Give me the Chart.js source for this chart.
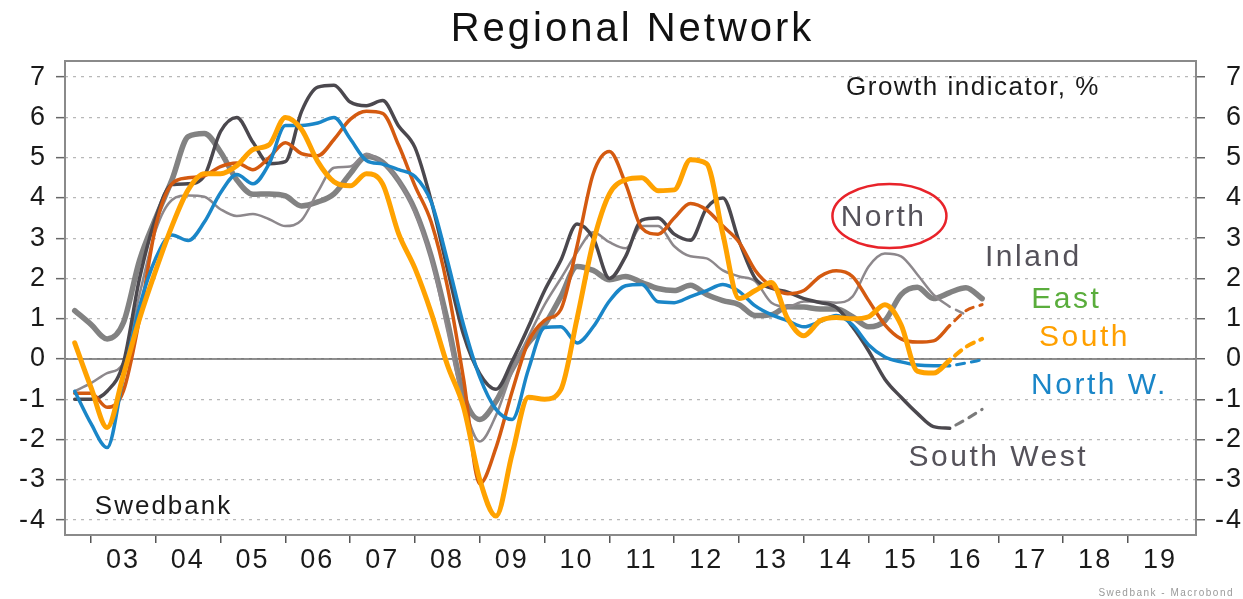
<!DOCTYPE html>
<html>
<head>
<meta charset="utf-8">
<title>Regional Network</title>
<script src="https://cdn.jsdelivr.net/npm/chart.js@4.4.1/dist/chart.umd.min.js"></script>
<style>
  html, body { margin: 0; padding: 0; background: #fff; }
  canvas { display: block; }
</style>
</head>
<body>
<canvas id="regionChart" width="1243" height="599"></canvas>
<script>
// quarterly time axis (decimal years)
const quarters = [
  2002.75, 2003, 2003.25, 2003.5, 2003.75, 2004, 2004.25, 2004.5, 2004.75,
  2005, 2005.25, 2005.5, 2005.75, 2006, 2006.25, 2006.5, 2006.75,
  2007, 2007.25, 2007.5, 2007.75, 2008, 2008.25, 2008.5, 2008.75,
  2009, 2009.25, 2009.5, 2009.75, 2010, 2010.25, 2010.5, 2010.75,
  2011, 2011.25, 2011.5, 2011.75, 2012, 2012.25, 2012.5, 2012.75,
  2013, 2013.25, 2013.5, 2013.75, 2014, 2014.25, 2014.5, 2014.75,
  2015, 2015.25, 2015.5, 2015.75, 2016, 2016.25, 2016.5, 2016.75
];

const east = [
  -0.85, -0.85, -1.2, -0.8, 1.0, 3.3, 4.35, 4.5, 4.55,
  4.78, 4.87, 4.7, 5.0, 5.37, 5.1, 5.05, 5.45,
  5.95, 6.15, 6.1, 5.3, 4.3, 3.4, 1.8, -0.5,
  -3.1, -2.2, -0.8, 0.43, 0.96, 1.23, 2.8, 4.6,
  5.15, 4.35, 3.25, 3.1, 3.5, 3.86, 3.7, 3.3,
  2.9, 2.2, 1.8, 1.62, 1.7, 2.05, 2.19, 2.05,
  1.45, 0.85, 0.5, 0.42, 0.45, 0.83, null, null
];
const south = [
  0.4, -0.7, -1.7, -0.4, 1.0, 2.2, 3.3, 4.2, 4.6,
  4.6, 4.8, 5.2, 5.32, 6.0, 5.7, 4.9, 4.4,
  4.3, 4.6, 4.35, 3.1, 2.25, 1.15, -0.15, -1.2,
  -3.0, -3.9, -2.35, -0.95, -1.0, -0.76, 1.0, 2.9,
  4.1, 4.45, 4.5, 4.18, 4.2, 4.95, 4.85, 3.1,
  1.5, 1.7, 1.9, 1.0, 0.58, 0.95, 1.03, 1.0,
  1.05, 1.35, 0.85, -0.3, -0.35, -0.03, null, null
];
const northW = [
  -0.8, -1.6, -2.2, -0.45, 1.3, 2.5, 3.08, 2.94, 3.4,
  4.13, 4.58, 4.35, 4.85, 5.8, 5.8, 5.86, 6.0,
  5.47, 4.93, 4.84, 4.7, 4.53, 3.9, 2.45, 0.84,
  -0.45, -1.25, -1.5, -0.26, 0.78, 0.8, 0.4, 0.8,
  1.44, 1.82, 1.85, 1.42, 1.4, 1.55, 1.7, 1.85,
  1.68, 1.32, 1.1, 0.95, 0.8, 0.93, 1.08, 0.85,
  0.35, 0.05, -0.07, -0.15, -0.17, -0.17, null, null
];
const southWest = [
  -1.0, -1.0, -0.8, -0.1, 2.0, 3.5, 4.33, 4.35, 4.55,
  5.65, 6.0, 5.38, 4.85, 4.9, 6.15, 6.75, 6.8,
  6.38, 6.29, 6.42, 5.78, 5.25, 3.93, 2.24, 0.6,
  -0.37, -0.75, -0.05, 0.8, 1.7, 2.45, 3.35, 3.0,
  2.0, 2.55, 3.45, 3.5, 3.1, 2.95, 3.75, 4.0,
  2.93, 2.0, 1.76, 1.66, 1.5, 1.4, 1.28, 0.8,
  0.2, -0.5, -0.95, -1.35, -1.68, -1.72, null, null
];
const inland = [
  1.2, 0.86, 0.5, 0.9, 2.45, 3.5, 4.45, 5.52, 5.6,
  5.14, 4.45, 4.09, 4.1, 4.05, 3.8, 3.9, 4.1,
  4.6, 5.03, 4.89, 4.42, 3.7, 2.55, 0.94, -0.9,
  -1.5, -1.05, -0.25, 0.4, 0.85, 1.55, 2.3, 2.2,
  1.97, 2.05, 1.9, 1.75, 1.7, 1.83, 1.6, 1.45,
  1.35, 1.08, 1.1, 1.3, 1.29, 1.24, 1.24, 1.05,
  0.8, 0.95, 1.6, 1.78, 1.5, 1.65, 1.77, 1.5
];
const north = [
  -0.8, -0.6, -0.35, -0.1, 1.6, 3.2, 3.95, 4.06, 4.03,
  3.72, 3.55, 3.6, 3.47, 3.3, 3.45, 4.15, 4.75,
  4.78, 5.1, 4.87, 4.42, 3.64, 2.5, 0.7, -1.1,
  -2.05, -1.4, -0.3, 0.55, 1.35, 2.0, 2.65, 3.15,
  2.9, 2.75, 3.3, 3.3, 2.8, 2.55, 2.5, 2.2,
  2.05, 1.93, 1.4, 1.3, 1.43, 1.43, 1.4, 1.55,
  2.3, 2.62, 2.55, 2.1, 1.6, 1.3, null, null
];

// dashed forecast tails
const eastTail      = [...Array(54).fill(null), 0.83, 1.2, 1.35];
const southTail     = [...Array(54).fill(null), -0.03, 0.3, 0.5];
const northWTail    = [...Array(54).fill(null), -0.17, -0.1, -0.02];
const southWestTail = [...Array(54).fill(null), -1.72, -1.5, -1.25];
const northTail     = [...Array(54).fill(null), 1.3, 1.1, null];

const tickYears = [2003, 2004, 2005, 2006, 2007, 2008, 2009, 2010, 2011,
  2012, 2013, 2014, 2015, 2016, 2017, 2018, 2019];
const tickLabels = ["03", "04", "05", "06", "07", "08", "09", "10", "11",
  "12", "13", "14", "15", "16", "17", "18", "19"];
const yTicks = [-4, -3, -2, -1, 0, 1, 2, 3, 4, 5, 6, 7];

const FONT = "'Liberation Sans', Arial, sans-serif";

// text notes placed in data units
const notes = [
  { text: "Growth indicator, %", x: 2014.65, y: 6.73, color: "#1a1a1a", size: 26, spacing: 1.5, align: "left" },
  { text: "Swedbank", x: 2003.06, y: -3.68, color: "#1a1a1a", size: 26, spacing: 2, align: "left" },
  { text: "North", x: 2015.23, y: 3.5, color: "#55525a", size: 30, spacing: 2.5, align: "center" },
  { text: "Inland", x: 2017.54, y: 2.51, color: "#55525a", size: 30, spacing: 2.5, align: "center" },
  { text: "East", x: 2018.05, y: 1.47, color: "#5aad3c", size: 30, spacing: 2.5, align: "center" },
  { text: "South", x: 2018.33, y: 0.52, color: "#ffa000", size: 30, spacing: 2.5, align: "center" },
  { text: "North W.", x: 2018.56, y: -0.67, color: "#1a86c8", size: 30, spacing: 2.5, align: "center" },
  { text: "South West", x: 2017.0, y: -2.46, color: "#55525a", size: 30, spacing: 2.5, align: "center" }
];

const decorPlugin = {
  id: "decor",
  beforeDraw(chart) {
    chart.ctx.letterSpacing = "2px";
  },
  beforeDatasetsDraw(chart) {
    const { ctx, chartArea: a, scales } = chart;
    const y0 = scales.y.getPixelForValue(0);
    ctx.save();
    ctx.strokeStyle = "#6a6a6a";
    ctx.lineWidth = 1.5;
    ctx.beginPath();
    ctx.moveTo(a.left, y0);
    ctx.lineTo(a.right, y0);
    ctx.stroke();
    ctx.restore();
  },
  afterDatasetsDraw(chart) {
    const { ctx, chartArea: a, scales } = chart;
    ctx.save();
    // frame
    ctx.strokeStyle = "#8a8a8a";
    ctx.lineWidth = 2;
    ctx.strokeRect(a.left, a.top, a.right - a.left, a.bottom - a.top);

    ctx.textBaseline = "middle";
    notes.forEach((n) => {
      ctx.font = n.size + "px " + FONT;
      ctx.letterSpacing = n.spacing + "px";
      ctx.fillStyle = n.color;
      ctx.textAlign = n.align;
      ctx.fillText(n.text, scales.x.getPixelForValue(n.x), scales.y.getPixelForValue(n.y));
    });

    // red ring round North
    ctx.strokeStyle = "#e8232a";
    ctx.lineWidth = 2.5;
    ctx.beginPath();
    ctx.ellipse(scales.x.getPixelForValue(2015.32), scales.y.getPixelForValue(3.55), 57, 32, 0, 0, Math.PI * 2);
    ctx.stroke();

    // title
    ctx.font = "40px " + FONT;
    ctx.letterSpacing = "3px";
    ctx.fillStyle = "#111";
    ctx.textAlign = "center";
    ctx.textBaseline = "alphabetic";
    ctx.fillText("Regional Network", (a.left + a.right) / 2 + 2, 41);

    // source
    ctx.font = "10px " + FONT;
    ctx.letterSpacing = "1.5px";
    ctx.fillStyle = "#9a9a9a";
    ctx.textAlign = "right";
    ctx.textBaseline = "middle";
    ctx.fillText("Swedbank - Macrobond", chart.width - 9, chart.height - 6);
    ctx.restore();
  }
};

function line(label, data, color, width, dashed) {
  return {
    label: label,
    data: data,
    borderColor: color,
    backgroundColor: color,
    borderWidth: width,
    pointRadius: 0,
    cubicInterpolationMode: "monotone",
    borderDash: dashed ? [8, 7] : [],
    borderDashOffset: dashed ? 8 : 0,
    borderCapStyle: "round",
    borderJoinStyle: "round",
    spanGaps: false
  };
}

const tickFont = { family: FONT, size: 27 };

new Chart(document.getElementById("regionChart"), {
  type: "line",
  data: {
    labels: quarters,
    datasets: [
      line("South", south, "#ffa200", 5),
      line("North W.", northW, "#1a86c8", 3.5),
      line("East", east, "#d45a10", 3.5),
      line("South West", southWest, "#4b484e", 3.5),
      line("North", north, "#8d888c", 2.5),
      line("Inland", inland, "#828282", 5.5),
      line("South tail", southTail, "#ffa200", 4, true),
      line("North W. tail", northWTail, "#1a86c8", 3, true),
      line("East tail", eastTail, "#d45a10", 3, true),
      line("South West tail", southWestTail, "#7a7a7a", 3, true),
      line("North tail", northTail, "#8d888c", 2.5, true)
    ]
  },
  options: {
    responsive: false,
    animation: false,
    devicePixelRatio: 1,
    layout: { padding: { top: 61, left: 0, right: 0, bottom: 0 } },
    plugins: {
      legend: { display: false },
      title: { display: false },
      tooltip: { enabled: false }
    },
    scales: {
      x: {
        type: "linear",
        min: 2002.6,
        max: 2020.05,
        afterBuildTicks: (s) => { s.ticks = tickYears.map((v) => ({ value: v })); },
        afterFit: (s) => { s.height = 64; },
        grid: { drawOnChartArea: false, drawTicks: true, tickLength: 8, color: "#555", lineWidth: 1.5, tickBorderDash: [] },
        border: { display: false },
        ticks: {
          autoSkip: false,
          maxRotation: 0,
          labelOffset: 32,
          padding: 1,
          color: "#1a1a1a",
          font: tickFont,
          callback: (v, i) => tickLabels[i]
        }
      },
      y: {
        position: "left",
        min: -4.37,
        max: 7.4,
        afterBuildTicks: (s) => { s.ticks = yTicks.map((v) => ({ value: v })); },
        afterFit: (s) => { s.width = 65; },
        grid: { color: "#b8b8b8", lineWidth: 1.3, drawTicks: true, tickLength: 9, tickColor: "#666", tickWidth: 1.5, tickBorderDash: [] },
        border: { display: false, dash: [3, 5] },
        ticks: { padding: 9, color: "#1a1a1a", font: tickFont }
      },
      y2: {
        position: "right",
        min: -4.37,
        max: 7.4,
        afterBuildTicks: (s) => { s.ticks = yTicks.map((v) => ({ value: v })); },
        afterFit: (s) => { s.width = 47; },
        grid: { drawOnChartArea: false, drawTicks: true, tickLength: 9, color: "#666", lineWidth: 1.5, tickBorderDash: [] },
        border: { display: false },
        ticks: { padding: 9, crossAlign: "far", color: "#1a1a1a", font: tickFont }
      }
    }
  },
  plugins: [decorPlugin]
});
</script>
</body>
</html>
